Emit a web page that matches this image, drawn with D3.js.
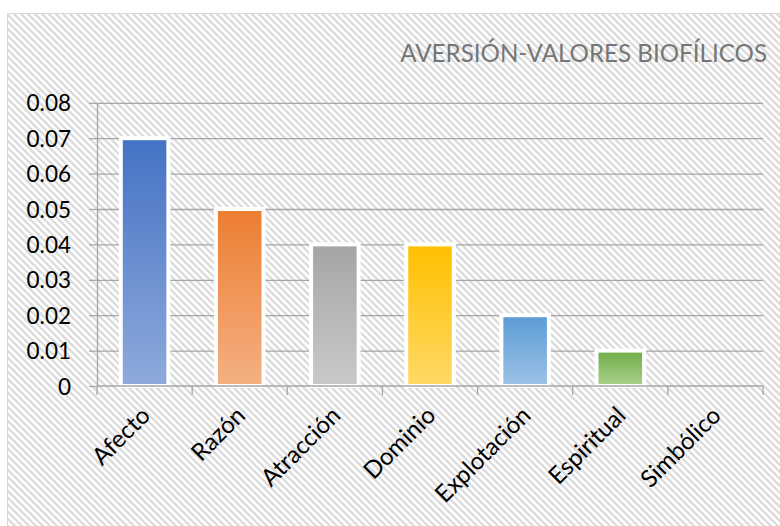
<!DOCTYPE html>
<html><head><meta charset="utf-8">
<script src="https://cdn.jsdelivr.net/npm/d3@7"></script>
<style>html,body{margin:0;padding:0;background:#fff;}svg{display:block;}</style>
</head><body>
<svg id="chart" width="780" height="526"></svg>
<script>
const title = "AVERSIÓN-VALORES BIOFÍLICOS";
const categories = ["Afecto","Razón","Atracción","Dominio","Explotación","Espiritual","Simbólico"];
const values = [0.07,0.05,0.04,0.04,0.02,0.01,0];
const colorsTop = ["#4472C4","#ED7D31","#A5A5A5","#FFC000","#5B9BD5","#70AD47","#264478"];
const colorsBottom = ["#8FAADC","#F4B183","#C9C9C9","#FFD966","#9DC3E6","#A9D18E","#7F9CCB"];
const yTicks = [0,0.01,0.02,0.03,0.04,0.05,0.06,0.07,0.08];

(function(){
const svg = d3.select("#chart");
const defs = svg.append("defs");
const pat = defs.append("pattern").attr("id","hatch").attr("patternUnits","userSpaceOnUse")
  .attr("width",7).attr("height",7);
pat.append("rect").attr("width",7).attr("height",7).attr("fill","#fff");
pat.append("path").attr("d","M-1,-1 L8,8 M-8,-1 L1,8 M6,-1 L15,8").attr("stroke","#dcdcdc").attr("stroke-width",2.4);

categories.forEach((c,i)=>{
  const g = defs.append("linearGradient").attr("id","g"+i).attr("x1",0).attr("y1",0).attr("x2",0).attr("y2",1);
  g.append("stop").attr("offset","0%").attr("stop-color",colorsTop[i]);
  g.append("stop").attr("offset","100%").attr("stop-color",colorsBottom[i]);
});

svg.append("rect").attr("x",7.5).attr("y",13.5).attr("width",790).attr("height",530)
  .attr("fill","url(#hatch)").attr("stroke","#d9d9d9").attr("stroke-width",1);

const pl = 97, pr = 763, pt = 102.8, pb = 386;
const x = d3.scaleBand().domain(categories).range([pl,pr]).padding(0);
const y = d3.scaleLinear().domain([0,0.08]).range([pb,pt]);

svg.append("g").attr("transform",`translate(${pl},0)`)
  .call(d3.axisLeft(y).tickValues(yTicks.slice(1)).tickSize(-(pr-pl)).tickFormat(""))
  .call(g=>{g.select(".domain").remove(); g.selectAll("line").attr("stroke","#a6a6a6").attr("stroke-width",1.3);});

const ya = svg.append("g").attr("transform",`translate(${pl},0)`)
  .call(d3.axisLeft(y).tickValues(yTicks).tickSize(8).tickSizeOuter(0).tickPadding(18).tickFormat(d=>d===0?"0":d3.format(".2f")(d)));
ya.select(".domain").attr("stroke","#a6a6a6").attr("stroke-width",1.3);
ya.selectAll("line").attr("stroke","#a6a6a6").attr("stroke-width",1.3);
ya.selectAll("text").attr("font-family","Lato, 'Open Sans', sans-serif").attr("font-size",22.5).attr("fill","#000").attr("dy","0.36em");

const bw = x.bandwidth()*0.5;
svg.append("g").selectAll("rect").data(values.map((v,i)=>({v,i,c:categories[i]})).filter(d=>d.v>0)).join("rect")
  .attr("x",d=>x(d.c)+(x.bandwidth()-bw)/2)
  .attr("y",d=>y(d.v))
  .attr("width",bw)
  .attr("height",d=>y(0)-y(d.v))
  .attr("fill",d=>`url(#g${d.i})`)
  .attr("stroke","#fff").attr("stroke-width",4);

const xa = svg.append("g").attr("transform",`translate(0,${pb})`);
xa.append("line").attr("x1",pl).attr("x2",pr).attr("stroke","#a6a6a6").attr("stroke-width",1.3);
const bounds = categories.map(c=>x(c)).concat([pr]);
xa.selectAll("line.tick").data(bounds).join("line").attr("class","tick")
  .attr("x1",d=>d).attr("x2",d=>d).attr("y1",0).attr("y2",9).attr("stroke","#a6a6a6").attr("stroke-width",1.3);
xa.selectAll("text").data(categories).join("text")
  .attr("transform",d=>`translate(${x(d)+x.bandwidth()/2+7},${31}) rotate(-45)`)
  .attr("text-anchor","end")
  .attr("font-family","Lato, 'Open Sans', sans-serif").attr("font-size",24).attr("fill","#000")
  .text(d=>d);

const t = svg.append("text").attr("x",767).attr("y",62.3).attr("text-anchor","end")
  .attr("font-family","Lato, 'Open Sans', sans-serif").attr("font-size",26).attr("fill","#767676").text(title);
const w = t.node().getComputedTextLength();
t.attr("font-size",26*367/w);
})();
</script>
</body></html>
